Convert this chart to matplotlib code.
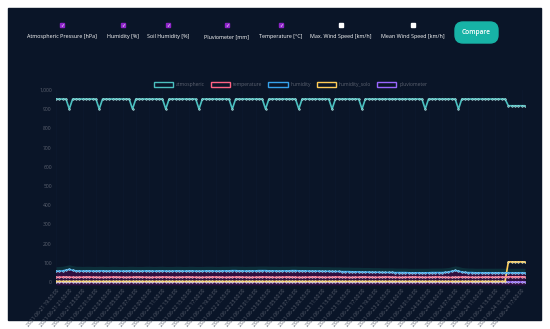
import matplotlib
matplotlib.use("Agg")
import matplotlib.pyplot as plt
from matplotlib.patches import Rectangle, FancyBboxPatch, Patch

plt.rcParams['font.family'] = ['Open Sans', 'DejaVu Sans']

# --- data -----------------------------------------------------------------
time_labels = [
    "2021-06-21 19:00:00", "2021-06-21 21:00:00", "2021-06-21 23:00:00",
    "2021-06-22 01:00:00", "2021-06-22 03:00:00", "2021-06-22 05:00:00",
    "2021-06-22 07:00:00", "2021-06-22 09:00:00", "2021-06-22 11:00:00",
    "2021-06-22 13:00:00", "2021-06-22 15:00:00", "2021-06-22 17:00:00",
    "2021-06-22 19:00:00", "2021-06-22 21:00:00", "2021-06-22 23:00:00",
    "2021-06-23 01:00:00", "2021-06-23 03:00:00", "2021-06-23 05:00:00",
    "2021-06-23 07:00:00", "2021-06-23 09:00:00", "2021-06-23 11:00:00",
    "2021-06-23 13:00:00", "2021-06-23 15:00:00", "2021-06-23 17:00:00",
    "2021-06-23 19:00:00", "2021-06-23 21:00:00", "2021-06-23 23:00:00",
    "2021-06-24 01:00:00", "2021-06-24 03:00:00", "2021-06-24 05:00:00",
    "2021-06-24 07:00:00", "2021-06-24 09:00:00", "2021-06-24 11:00:00",
    "2021-06-24 13:00:00", "2021-06-24 15:00:00", "2021-06-24 17:00:00",
]

atmospheric = [
    953, 953, 953, 953, 901, 953, 953, 953, 953, 953,
    953, 953, 953, 901, 953, 953, 953, 953, 953, 953,
    953, 953, 953, 901, 953, 953, 953, 953, 953, 953,
    953, 953, 953, 901, 953, 953, 953, 953, 953, 953,
    953, 953, 953, 901, 953, 953, 953, 953, 953, 953,
    953, 953, 953, 901, 953, 953, 953, 953, 953, 953,
    953, 953, 953, 901, 953, 953, 953, 953, 953, 953,
    953, 953, 953, 901, 953, 953, 953, 953, 953, 953,
    953, 953, 953, 901, 953, 953, 953, 953, 953, 953,
    953, 953, 901, 953, 953, 953, 953, 953, 953, 953,
    953, 953, 953, 953, 953, 953, 953, 953, 953, 953,
    953, 901, 953, 953, 953, 953, 953, 953, 953, 953,
    953, 901, 953, 953, 953, 953, 953, 953, 953, 953,
    953, 953, 953, 953, 953, 953, 918, 918, 918, 918,
    918, 918,
]
humidity = [
    56, 57, 58, 62, 66, 61, 58, 58, 57, 58,
    58, 57, 57, 58, 58, 57, 57, 58, 58, 57,
    57, 57, 58, 58, 57, 57, 57, 58, 58, 57,
    57, 58, 58, 57, 57, 57, 58, 58, 57, 57,
    58, 58, 57, 57, 57, 58, 58, 58, 57, 57,
    58, 58, 58, 59, 59, 58, 58, 57, 58, 58,
    58, 59, 59, 59, 58, 58, 58, 57, 58, 58,
    58, 59, 59, 58, 58, 58, 57, 57, 57, 57,
    56, 56, 56, 55, 55, 55, 54, 54, 54, 53,
    53, 53, 52, 52, 52, 51, 51, 51, 50, 50,
    50, 50, 49, 49, 49, 49, 48, 48, 48, 48,
    48, 48, 48, 49, 49, 49, 49, 50, 52, 56,
    60, 57, 52, 50, 49, 49, 48, 48, 48, 48,
    48, 48, 48, 48, 48, 48, 48, 48, 48, 48,
    48, 48,
]
temperature = [
    25, 25, 26, 26, 25, 25, 24, 25, 25, 26,
    26, 25, 25, 24, 24, 25, 25, 26, 26, 25,
    25, 24, 25, 25, 26, 26, 25, 25, 24, 24,
    25, 25, 26, 26, 25, 25, 24, 25, 25, 26,
    26, 25, 25, 24, 24, 25, 25, 26, 26, 25,
    25, 24, 25, 25, 26, 26, 25, 25, 24, 24,
    25, 25, 26, 26, 25, 25, 24, 25, 25, 26,
    26, 25, 25, 24, 24, 25, 25, 26, 26, 25,
    25, 24, 25, 25, 26, 26, 25, 25, 24, 24,
    25, 25, 26, 26, 25, 25, 24, 25, 25, 26,
    26, 25, 25, 24, 24, 25, 25, 26, 26, 25,
    25, 24, 25, 25, 26, 26, 25, 25, 24, 24,
    25, 25, 26, 26, 25, 25, 24, 25, 25, 26,
    26, 25, 25, 26, 26, 26, 27, 27, 27, 27,
    27, 27,
]
humidity_solo = [3] * 136 + [105, 105, 105, 105, 105, 105]
pluviometer = [0] * 142

checkbox_labels = ["Atmospheric Pressure [hPa]", "Humidity [%]", "Soil Humidity [%]",
                   "Pluviometer [mm]", "Temperature [\u00b0C]", "Max. Wind Speed [km/h]",
                   "Mean Wind Speed [km/h]"]
checkbox_checked = [True, True, True, True, True, False, False]
checkbox_x = [62, 123, 168, 227, 281, 341, 413]

series_names = ["atmospheric", "temperature", "humidity", "humidity_solo", "pluviometer"]
colors = ["#4bc0c0", "#ff6384", "#36a2eb", "#ffcd56", "#9966ff"]

BG = "#0a1528"

fig = plt.figure(figsize=(5.5, 3.29), dpi=100)
fig.patch.set_facecolor("white")

# background / page elements in pixel coordinates
bg = fig.add_axes([0, 0, 1, 1])
bg.set_xlim(0, 550)
bg.set_ylim(329, 0)
bg.axis("off")
bg.add_patch(Rectangle((8, 8), 533, 312, color=BG, zorder=0))

for lab, chk, cx in zip(checkbox_labels, checkbox_checked, checkbox_x):
    if chk:
        bg.add_patch(Rectangle((cx - 2.3, 22.7), 4.6, 4.6, color="#8e24c8", zorder=2))
        bg.text(cx, 25.2, "\u2713", color="white", fontsize=3.5, ha="center",
                va="center", family="DejaVu Sans", zorder=3)
    else:
        bg.add_patch(Rectangle((cx - 2.3, 22.7), 4.6, 4.6, color="white", zorder=2))
    bg.text(cx, 38, lab, color="white", fontsize=3.9, ha="center", va="baseline",
            fontweight="medium")

bg.add_patch(FancyBboxPatch((455, 22), 43, 21, boxstyle="round,pad=0,rounding_size=8",
                            color="#17b3a6", zorder=2))
bg.text(476.5, 32.5, "Compare", color="white", fontsize=4.8, ha="center",
        va="center", fontweight="semibold", zorder=3)

# chart
ax = fig.add_axes([56 / 550, 1 - 284.9 / 329, 469 / 550, 194.9 / 329])
ax.patch.set_alpha(0)
x = list(range(len(atmospheric)))
data = [atmospheric, temperature, humidity, humidity_solo, pluviometer]

hum_top = [h + 24 for h in humidity]
ax.fill_between(x, humidity, hum_top, color="#0c2f3a", lw=0, zorder=1)
ax.fill_between(x, -15, humidity, color="#2f0f40", lw=0, zorder=1)

for name, col, vals in zip(series_names[::-1], colors[::-1], data[::-1]):
    ax.plot(x, vals, color=col, lw=1.2, marker="o", ms=1.3, mew=0.3,
            mfc=col, mec="#d8f0f0", zorder=3)

ax.set_xlim(0, len(x) - 1)
ax.set_ylim(-15, 1000)
ax.set_yticks(range(0, 1001, 100))
ax.set_yticklabels([f"{v:,}" for v in range(0, 1001, 100)])
ax.set_xticks(x[::4])
ax.set_xticklabels(time_labels, rotation=50, ha="right", va="top",
                   rotation_mode="anchor")
ax.tick_params(axis="both", length=0, colors="#5c6270", labelsize=3.6)
ax.tick_params(axis="y", pad=3)
ax.tick_params(axis="x", pad=2)
ax.grid(axis="x", color="#0c192e", lw=0.5)
ax.set_axisbelow(True)
for s in ax.spines.values():
    s.set_visible(False)

handles = [Patch(facecolor=BG, edgecolor=c, lw=1.0) for c in colors]
leg = ax.legend(handles, series_names, loc="lower center", bbox_to_anchor=(0.5, 0.99),
                ncol=5, frameon=False, fontsize=3.6, handlelength=3.9,
                handleheight=1.4, handletextpad=0.6, columnspacing=1.1)
for t in leg.get_texts():
    t.set_color("#5c6270")

fig.savefig("out.png", dpi=100, facecolor="white")
